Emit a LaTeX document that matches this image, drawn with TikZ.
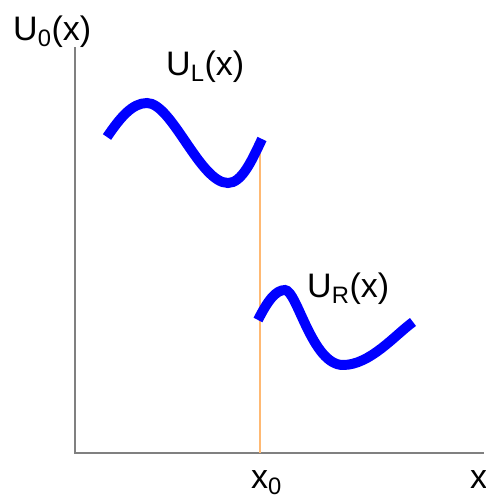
\documentclass[tikz,border=0pt]{standalone}
\usepackage{fontspec}
\setmainfont{Liberation Sans}

\begin{document}
\begin{tikzpicture}[x=0.03cm,y=-0.03cm,
    axis/.style={draw=gray,line width=1.5pt},
    jump/.style={draw=orange!55,line width=1.2pt},
    wave/.style={draw=blue,line width=8.5pt},
    lbl/.style={anchor=base west,inner sep=0pt,font=\fontsize{29}{29}\selectfont}]
    \useasboundingbox (0,0) rectangle (486,499);

    \coordinate (o) at (75,453);
    \coordinate (ytop) at (75,47);
    \coordinate (xend) at (484,453);
    \coordinate (x0) at (260,453);
    \coordinate (x0top) at (260,150);

    \draw [axis] (ytop) -- (o) -- (xend);
    \draw [jump] (x0) -- (x0top);

    % left piece
    \draw [wave] (107,137) .. controls (120,118) and (132,103) .. (147,103)
        .. controls (172,103) and (200,183) .. (228,183)
        .. controls (242,183) and (252,160) .. (262,139);
    % right piece
    \draw [wave] (258,320) .. controls (268,300) and (276,290) .. (285,290)
        .. controls (297,290) and (312,365) .. (343,365)
        .. controls (370,365) and (395,335) .. (413,322);

    \node [lbl] (u0) at (13,40) {U\textsubscript{0}(x)};
    \node [lbl] (ul) at (166,75) {U\textsubscript{L}(x)};
    \node [lbl] (ur) at (307,297) {U\textsubscript{R}(x)};
    \node [lbl] (x0lbl) at (251,488) {x\textsubscript{0}};
    \node [lbl] (xlbl) at (470,488) {x};
\end{tikzpicture}
\end{document}
